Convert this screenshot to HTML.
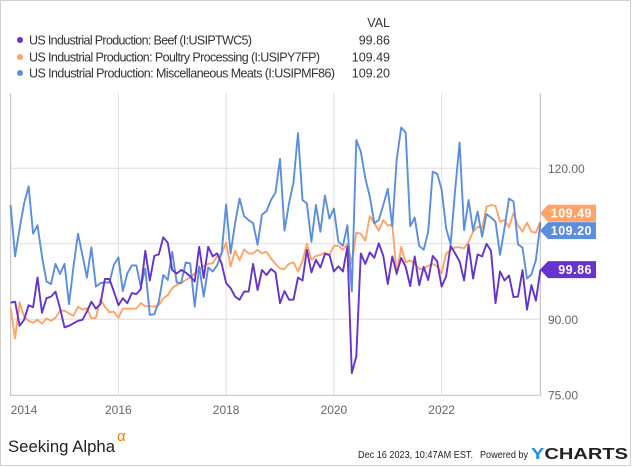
<!DOCTYPE html>
<html><head><meta charset="utf-8"><style>
html,body{margin:0;padding:0;background:#fff;}
svg{display:block;font-family:"Liberation Sans",sans-serif;}
</style></head><body>
<svg id="chart" width="635" height="467" viewBox="0 0 635 467">
<rect x="0.5" y="0.5" width="630" height="465" fill="#fff" stroke="#d0d0d0"/>
<g>
<text x="390" y="27" font-size="12.5" fill="#333" text-anchor="end">VAL</text>
<g><circle cx="20" cy="40" r="3" fill="#6633cc"/><text x="29" y="44.5" font-size="12.5" fill="#333" textLength="223">US Industrial Production: Beef (I:USIPTWC5)</text><text x="390" y="44.5" font-size="12.5" fill="#333" text-anchor="end">99.86</text></g>
<g><circle cx="20" cy="57" r="3" fill="#ffa366"/><text x="29" y="61.5" font-size="12.5" fill="#333" textLength="291">US Industrial Production: Poultry Processing (I:USIPY7FP)</text><text x="390" y="61.5" font-size="12.5" fill="#333" text-anchor="end">109.49</text></g>
<g><circle cx="20" cy="73" r="3" fill="#5b8fdd"/><text x="29" y="77.5" font-size="12.5" fill="#333" textLength="306">US Industrial Production: Miscellaneous Meats (I:USIPMF86)</text><text x="390" y="77.5" font-size="12.5" fill="#333" text-anchor="end">109.20</text></g>
</g>
<g id="grid"></g>
<g id="axes"></g>
<g id="series"></g>
<g id="tags"></g>
<text x="8" y="452" font-size="17" fill="#222" textLength="107" lengthAdjust="spacingAndGlyphs">Seeking Alpha</text>
<text x="117" y="441" font-size="15" fill="#ff7a00">α</text>
<text x="358" y="458" font-size="10.5" fill="#222" textLength="115" lengthAdjust="spacingAndGlyphs">Dec 16 2023, 10:47AM EST.</text>
<text x="480" y="458" font-size="10.5" fill="#222" textLength="48" lengthAdjust="spacingAndGlyphs">Powered by</text>
<text x="531" y="459" font-size="16" font-weight="bold" fill="#222" textLength="97" lengthAdjust="spacingAndGlyphs"><tspan fill="#1f8ee6">Y</tspan>CHARTS</text>
</svg>
<script>
const beef=[93.3,93.5,88.7,89.9,92.8,92.4,98.3,91.3,94.2,94.5,95.5,92.2,88.4,88.7,89.2,89.7,89.9,91.5,93.5,92.1,93,98,98,95.5,92.8,94.2,93.2,95.2,95,96,103.6,97.7,102.6,102.9,106.3,105.2,99.8,99.1,
99.8,99.3,98.5,97.5,104.4,98.2,104.4,102.5,103.1,101.1,97.2,96.2,94.5,93.9,95.5,95.5,101,95.8,99.8,98.8,100,99.3,93.2,95.6,93.9,93.9,98.3,97.7,103.8,99.3,101.8,100.3,103,102.8,99.5,100.5,99.5,104.4,
79.3,82.6,103.1,101,103.3,102.2,105.1,102.6,97,102.5,99.1,102.2,100.4,96.6,102.5,96.8,100.4,97.8,102.6,101.5,96.5,98.5,104.6,103.1,101.5,97.7,104.8,98.1,102.9,102.5,105,103.6,93.2,99.5,97.7,98.7,94.4,94.5,99.8,91.9,96.8,93.7,99.86];
const poultry=[92.2,86.2,93.4,90.5,89.7,89.3,89.9,89.1,90.2,89.7,90.3,91.7,91.7,91.2,90.7,92.5,91.9,92.2,90.2,90.3,94,92.5,91.4,91.5,90.3,92.1,92.1,92.1,92.1,93.2,92.6,92.6,92.5,92.8,94.2,94.8,96.2,96.8,
97.2,97.8,98.3,99.1,99.8,100.6,101,101.1,102.5,103.1,105.2,100.5,103.6,101.7,103.9,103.1,103.1,103.8,103.1,103.4,102.1,101,100.1,100,101,101.3,99.5,101.5,105,101.8,102.6,102.8,103.3,102.8,104.6,104.6,103.8,105,
101.1,107.2,107,105.6,110.5,109.1,107.6,109.7,108.6,108.9,98.8,104.4,101.3,101.7,101.1,100,100.1,100.6,101,100.5,99.1,103,103.8,104.3,104.3,104.1,105.4,107.4,108.4,108.1,112.4,112.7,112.5,109.4,109.7,108.3,111.1,108.7,107.4,109.2,107.4,107.2,109.49];
const misc=[112.7,102.5,108,113,116.4,107,108.7,102.5,97.5,97,101,99,101,93,100.5,107,102.8,98.3,104.3,96.5,97.2,97.3,97.3,100.8,102.3,95.6,99.1,100.7,100.7,96.5,100.1,90.9,91,93.5,98.8,97.8,103.4,97.3,
97.2,101.3,101.1,92.5,100.5,94.5,100.3,99.5,100.7,103.1,112.8,103.1,109.1,114,110.5,109.7,109.1,104.8,110.8,111.5,113.7,115.2,121.9,107.6,113,117.2,127,113.7,113,105.4,112.7,107.4,114.6,110,112,105.4,104.6,108.7,
95.5,125.6,123.3,118,114.4,109.1,109.7,112.7,115.9,108.4,121.7,128.1,127.1,108.5,110.2,104.6,103.8,107.4,119.3,118.9,115.8,108.1,104.9,115.6,125.1,107.7,113.7,107.6,111.4,106.4,110.9,110.2,109.4,102.8,108.1,114,113.4,104.9,104.2,98.1,98.9,101.8,109.2];
const yTicks=[75,90,105,120];
const yTickLabels=["75.00","90.00","","120.00"];
const xYears=[2014,2016,2018,2020,2022];
const lastLabels=["99.86","109.49","109.20"];

const NS="http://www.w3.org/2000/svg";
const L=10.6,R=540.4,T=93,B=395.3;
const x=i=>L+i*4.49;
const y=v=>168.3-(v-120)*5.033;
const xYear=yr=>L+(yr-2014)*12*4.49;
function mk(tag,attrs,parent){const e=document.createElementNS(NS,tag);for(const k in attrs)e.setAttribute(k,attrs[k]);parent.appendChild(e);return e;}
const grid=document.getElementById('grid'),axes=document.getElementById('axes'),ser=document.getElementById('series'),tags=document.getElementById('tags');
yTicks.forEach((t,k)=>{
 if(t>75){const g=mk('line',{x1:L,x2:R,y1:y(t),y2:y(t),stroke:'#dedede','stroke-width':1},grid);
 
 }
 if(yTickLabels[k]){const tx=mk('text',{x:548,y:y(t)+4.5,'font-size':12,fill:'#666'},axes);tx.textContent=yTickLabels[k];
 
 }
});
xYears.forEach(yr=>{
 const g=mk('line',{x1:xYear(yr),x2:xYear(yr),y1:T,y2:B,stroke:'#dedede','stroke-width':1},grid);
 
 
 const tx=mk('text',{x:Math.max(xYear(yr),24),y:414,'font-size':12,fill:'#666','text-anchor':'middle'},axes);tx.textContent=yr;
 
 
});
const frame=mk('path',{d:`M${L},${T}V${B}H${R}V${T}`,fill:'none',stroke:'#c8c8c8','stroke-width':1.2},axes);


const defs=[[poultry,'#ffa366','line-poultry'],[misc,'#5b8fdd','line-misc-meats'],[beef,'#6633cc','line-beef']];
defs.forEach(([d,c,n])=>{
 const p=mk('path',{d:d.map((v,i)=>(i?'L':'M')+x(i).toFixed(1)+','+y(v).toFixed(1)).join(''),fill:'none',stroke:c,'stroke-width':1.9,'stroke-linejoin':'round'},ser);
 
 
});
const tagDefs=[[poultry,'#ffa366',lastLabels[1],'tag-poultry',-8],[misc,'#5b8fdd',lastLabels[2],'tag-misc-meats',8],[beef,'#6633cc',lastLabels[0],'tag-beef',0]];
tagDefs.forEach(([d,c,lab,n,off])=>{
 const cy=y(d[d.length-1])+off;
 const g=mk('g',{},tags);
 
 
 mk('path',{d:`M540,${cy}L548,${cy-8.5}H596V${cy+8.5}H548Z`,fill:c},g);
 const t=mk('text',{x:592,y:cy+4.5,'font-size':12.5,'font-weight':'bold',fill:'#fff','text-anchor':'end','letter-spacing':'0.5'},g);t.textContent=lab;
});
</script>
</body></html>
